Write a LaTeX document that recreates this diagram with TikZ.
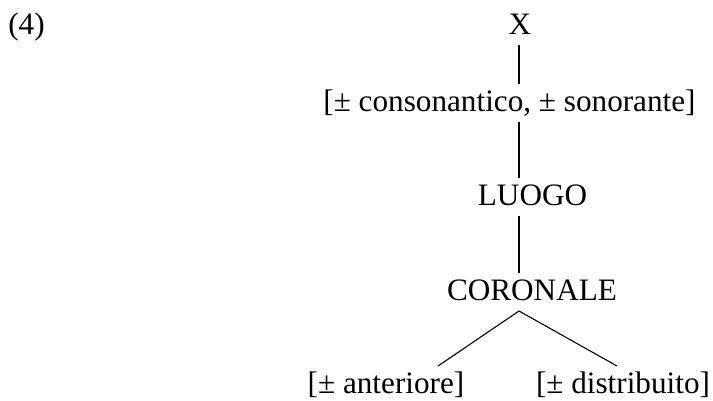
\documentclass[tikz,border=0pt]{standalone}
\usepackage{fontspec}
\setmainfont{Liberation Serif}
\usetikzlibrary{positioning,calc}

\begin{document}
\begin{tikzpicture}[
  x=1pt, y=-1pt,
  font=\fontsize{31.2}{37}\selectfont,
  feat/.style={inner xsep=0pt, inner ysep=7pt, outer sep=0pt, anchor=base,
               text height=20pt, text depth=4pt},
  tie/.style={line width=1.1pt, black}
]
\useasboundingbox (0,0) rectangle (713,400);
% ----- example number -----
\node[feat] (num) at (26.5,34.5) {(4)};
% ----- tree nodes (top -> bottom) -----
\coordinate (stem) at (519,0);
\node[feat] (root) at (520,34)    {X};
\node[feat] (cons) at (509.5,111) {[\textpm{} consonantico, \textpm{} sonorante]};
\node[feat] (luogo) at (532.5,205) {LUOGO};
\node[feat] (coro) at (532,300)   {CORONALE};
\node[feat] (ant) at (386,393)    {[\textpm{} anteriore]};
\node[feat] (dist) at (623,393)   {[\textpm{} distribuito]};
% ----- association lines -----
\draw[tie] (stem |- root.south) -- (stem |- cons.north);
\draw[tie] (stem |- cons.south) -- (stem |- luogo.north);
\draw[tie] (stem |- luogo.south) -- (stem |- coro.north);
\draw[tie] ([xshift=52pt]ant.north) -- (stem |- coro.south) -- ([xshift=-6pt]dist.north);
\end{tikzpicture}
\end{document}
